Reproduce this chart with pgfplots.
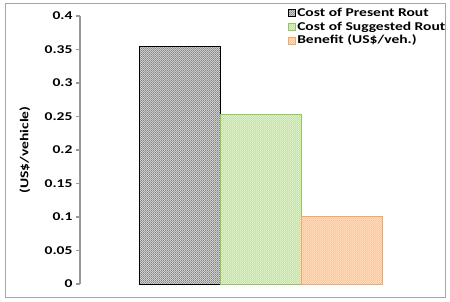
\documentclass[border=0pt]{standalone}
\usepackage{pgfplots}
\pgfplotsset{compat=1.18}
\usepackage{fontspec}
\setmainfont{Carlito}[FakeStretch=1.3]
\usetikzlibrary{patterns.meta}
\definecolor{xgreen}{HTML}{92C85A}
\definecolor{xorange}{HTML}{F79646}
\definecolor{axgray}{HTML}{999999}
\begin{document}
\begin{tikzpicture}
\begin{axis}[
  scale only axis, width=360bp, height=268bp,
  xmin=-1.235, xmax=3.216, ymin=0, ymax=0.4,
  axis lines*=left, xtick=\empty, clip=false,
  x axis line style={draw=none},
  y axis line style={draw=axgray, line width=1.2bp},
  ytick={0,0.05,0.1,0.15,0.2,0.25,0.3,0.35,0.4},
  yticklabels={0,0.05,0.1,0.15,0.2,0.25,0.3,0.35,0.4},
  tick align=outside, major tick length=4bp,
  ytick style={draw=axgray, line width=1.2bp},
  tick label style={font=\bfseries\fontsize{12}{14}\selectfont},
  ylabel={(US\$/vehicle)},
  every axis y label/.append style={at={(axis description cs:-0.153,0.5)}, anchor=center},
  ylabel style={font=\bfseries\fontsize{12}{14}\selectfont},
  ybar, bar width=1, bar shift=0pt,
  legend style={at={(0.57,1.045)}, anchor=north west, draw=none, fill=none,
    font=\bfseries\fontsize{12}{14}\selectfont, row sep=0pt,
    nodes={inner sep=1pt, text height=9pt, text depth=3pt}},
  legend cell align=left,
  legend image code/.code={\draw[#1] (0cm,-0.12cm) rectangle (0.25cm,0.13cm);},
]
\draw[axgray, line width=1.2bp] (rel axis cs:0,0) -- (rel axis cs:0,1);
\addplot[draw=black, line width=0.8bp, fill=gray!20,
  postaction={pattern={Lines[angle=45,distance=1.4142bp,line width=0.4bp]}, pattern color=black!70}]
  coordinates {(0,0.355)};
\addlegendentry{Cost of Present Rout}
\addplot[draw=xgreen, line width=0.8bp, fill=xgreen!20,
  postaction={pattern={Lines[angle=45,distance=1.4142bp,line width=0.4bp]}, pattern color=xgreen!80}]
  coordinates {(1,0.253)};
\addlegendentry{Cost of Suggested Rout}
\addplot[draw=xorange!85, line width=0.8bp, fill=xorange!22,
  postaction={pattern={Lines[angle=45,distance=1.4142bp,line width=0.4bp]}, pattern color=xorange!80}]
  coordinates {(2,0.101)};
\addlegendentry{Benefit (US\$/veh.)}
\end{axis}
\draw[gray!70, line width=0.8bp] ([shift={(-75bp,-13bp)}]current axis.south west) rectangle ([shift={(5bp,13bp)}]current axis.north east);
\path ([shift={(-80bp,-18bp)}]current axis.south west) rectangle ([shift={(10bp,16bp)}]current axis.north east);
\end{tikzpicture}
\end{document}
